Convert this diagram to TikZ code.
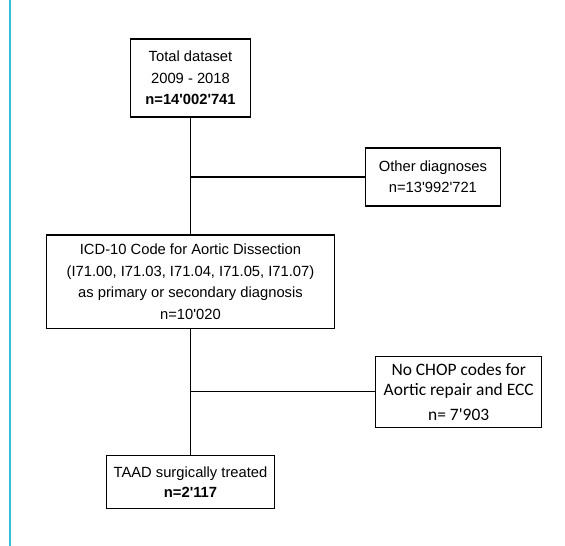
\documentclass[tikz,border=0pt]{standalone}
\usepackage{fontspec}
\setmainfont{Liberation Sans}[Ligatures=TeXOff]
\newfontfamily\calib{Carlito}[Ligatures=TeXOff]
\definecolor{cyanline}{RGB}{52,190,214}
\begin{document}
\begin{tikzpicture}[x=1bp,y=-1bp,
  box/.style={draw,line width=1.1bp,inner sep=0pt,align=center,
    font=\fontsize{14.8}{21.5}\selectfont},
  link/.style={line width=1.1bp}]
\useasboundingbox (0,0) rectangle (565,546);
\draw[cyanline,line width=1.5bp] (10,0) -- (10,546);
\node[box,minimum width=119.4bp,minimum height=78bp] (total) at (190.5,78)
  {Total dataset\\2009 - 2018\\\textbf{n=14'002'741}};
\node[box,minimum width=134.3bp,minimum height=58bp] (other) at (432.9,177)
  {Other diagnoses\\n=13'992'721};
\node[box,minimum width=287.4bp,minimum height=93.3bp] (icd) at (190.5,281.7)
  {ICD-10 Code for Aortic Dissection\\(I71.00, I71.03, I71.04, I71.05, I71.07)\\as primary or secondary diagnosis\\n=10'020};
\node[box,minimum width=166bp,minimum height=70.3bp,
  font=\calib\fontsize{17.5}{20}\selectfont] (nochop) at (458.7,391.9)
  {No CHOP codes for\\Aortic repair and ECC\\[5bp]n= 7'903};
\node[box,minimum width=167.6bp,minimum height=53.3bp,
  font=\fontsize{14.8}{20}\selectfont] (taad) at (190.5,481.7)
  {TAAD surgically treated\\\textbf{n=2'117}};
\coordinate (b1) at (total.south |- other.west);
\coordinate (b2) at (icd.south |- nochop.west);
\draw[link] (total.south) -- (icd.north);
\draw[link] (b1) -- (other.west);
\draw[link] (icd.south) -- (taad.north);
\draw[link] (b2) -- (nochop.west);
\end{tikzpicture}
\end{document}
